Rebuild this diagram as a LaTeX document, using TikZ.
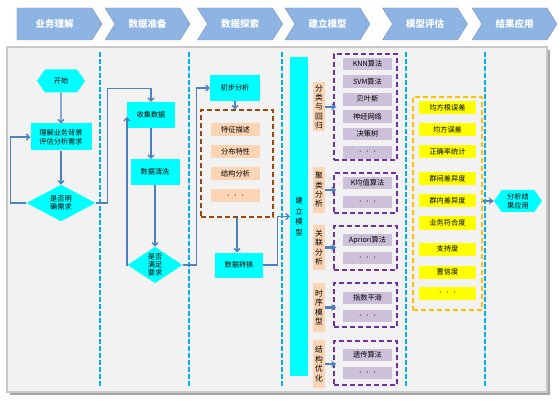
\documentclass[tikz,border=0pt]{standalone}
\usepackage{fontspec}
\newfontfamily\cjk{Noto Sans CJK SC}
\usetikzlibrary{arrows.meta, calc, positioning, shapes.geometric, shapes.symbols}

\definecolor{hdrblue}{HTML}{8DB4E2}
\definecolor{hdrline}{HTML}{7896C4}
\definecolor{boxcyan}{HTML}{00FFFF}
\definecolor{boxyellow}{HTML}{FFFF00}
\definecolor{flowblue}{HTML}{4F81BD}
\definecolor{sepblue}{HTML}{00B0F0}
\definecolor{peach}{HTML}{FBD4B4}
\definecolor{lavender}{HTML}{CCC0DA}
\definecolor{purpleline}{HTML}{7030A0}
\definecolor{brownline}{HTML}{984807}
\definecolor{orangeline}{HTML}{FFC000}
\definecolor{panelgray}{HTML}{F2F2F2}
\definecolor{panelline}{HTML}{C8C8C8}
\definecolor{shadowgray}{HTML}{A6A6A6}

\newcommand{\etcdots}{{\fontsize{5}{6}\selectfont\textbullet\ \ \textbullet\ \ \textbullet}}

\begin{document}
\begin{tikzpicture}[x=1pt, y=-1pt, >=Latex, font=\cjk\fontsize{7.2}{8.6}\selectfont,
  stage/.style={signal, signal to=east, signal pointer angle=116, fill=hdrblue, draw=hdrline,
    minimum width=85pt, minimum height=32pt, inner sep=0pt, text=white,
    font=\cjk\bfseries\fontsize{9.5}{11}\selectfont},
  proc/.style={fill=boxcyan, inner sep=0pt, align=center},
  cond/.style={diamond, fill=boxcyan, inner sep=0pt, align=center},
  term/.style={signal, signal to=west and east, signal pointer angle=110, fill=boxcyan,
    inner sep=0pt, align=center},
  flow/.style={draw=flowblue, line width=1.4pt, -{Straight Barb[length=3pt, width=6pt]}},
  link/.style={draw=flowblue, line width=2.2pt, -{Stealth[length=5pt, width=7pt]}},
  sep/.style={sepblue, line width=1.4pt, dash pattern=on 5pt off 2pt},
  group/.style={line width=1.4pt, dash pattern=on 5pt off 3pt, inner sep=0pt},
  item/.style={fill=peach, minimum width=49pt, minimum height=13pt, inner sep=0pt},
  algo/.style={fill=lavender, minimum width=49pt, minimum height=12.5pt, inner sep=0pt},
  metric/.style={fill=boxyellow, minimum width=57pt, minimum height=13pt, inner sep=0pt},
  kind/.style={fill=peach, minimum width=12pt, inner sep=0pt, align=center,
    font=\cjk\fontsize{7.8}{9.4}\selectfont},
]
\useasboundingbox (0,0) rectangle (560,401);

% stages on top
\node[stage] (s1) at (54.5,24) {业务理解};
\foreach \x/\txt [count=\i from 2] in {147.5/数据准备, 240/数据探索, 327.5/建立模型, 425/模型评估, 514.5/结果应用} {
  \node[stage, signal from=west] (s\i) at (\x,24) {\txt};
}

% panel
\fill[shadowgray] (10,50) rectangle (550,395);
\draw[fill=panelgray, draw=panelline, line width=2.5pt] (7,47) rectangle (547,392);
\foreach \x in {100, 189, 282, 406, 485} {
  \draw[sep] (\x,52) -- (\x,386);
}

% business understanding
\node[term, minimum width=48pt, minimum height=23pt] (start) at (61,81) {开始};
\node[proc, minimum width=61pt, minimum height=27pt] (understand) at (61,137) {理解业务背景\\评估分析需求};
\node[cond, minimum width=69pt, minimum height=36pt] (clear) at (61,203) {是否明\\确需求};

\draw[flow] (start) -- (understand);
\draw[flow] (understand) -- (clear);
\draw[flow] (clear.west) -- ++(-16,0) |- (understand.west);

% data preparation
\node[proc, minimum width=48pt, minimum height=26pt] (collect) at (151,115) {收集数据};
\node[proc, minimum width=49pt, minimum height=26pt] (clean) at (155,172) {数据清洗};
\node[cond, minimum width=55pt, minimum height=35pt, font=\cjk\fontsize{7.2}{7.8}\selectfont] (meet) at (155,265) {是否\\满足\\要求};

\draw[flow] (clear.east) -- ++(12,0) |- ($(collect.north)+(0,-13)$) -- (collect.north);
\draw[flow] (collect.south) -- (collect.south |- clean.north);
\draw[flow] (clean) -- (meet);
\draw[flow] (meet.west) -| ([yshift=-2pt]collect.west);

% data exploration
\node[proc, minimum width=50pt, minimum height=26pt] (explore) at (235,88) {初步分析};
\node[draw=brownline, group, minimum width=72pt, minimum height=107pt] (featbox) at (237,163.5) {};
\foreach \y/\txt [count=\i] in {130/特征描述, 152/分布特性, 174/结构分析, 196/\etcdots} {
  \node[item] (f\i) at (235.5,\y) {\txt};
}
\node[proc, minimum width=48pt, minimum height=25pt] (transform) at (239,265) {数据转换};

\draw[flow] (meet.east) -- ++(14,0) |- (explore.west);
\draw[flow] (explore.south) -- (explore.south |- featbox.north);
\draw[flow] (featbox.south) -- (featbox.south |- transform.north);

% modelling
\node[fill=boxcyan, minimum width=18pt, minimum height=319pt, inner sep=0pt, align=center,
  font=\cjk\fontsize{7.5}{10.5}\selectfont] (model) at (299,216.5) {建\\立\\模\\型};
\draw[flow] (transform.east) -- ++(14,0) |- (model.west);

\foreach \y/\h/\txt/\gy/\gh [count=\i] in {
    107/49/{分\\类\\与\\回\\归}/107/106,
    190/46/{聚\\类\\分\\析}/193/40,
    247.5/45/{关\\联\\分\\析}/248/44,
    307.5/49/{时\\序\\模\\型}/305/44,
    364/48/{结\\构\\优\\化}/363/44} {
  \node[kind, minimum height=\h] (k\i) at (319,\y) {\txt};
  \node[draw=purpleline, group, minimum width=63pt, minimum height=\gh] (g\i) at (365.5,\gy) {};
  \draw[link] (k\i.east) -- ([xshift=3pt]g\i.west |- k\i.east);
}
\foreach \y/\txt [count=\i] in {64/KNN算法, 81.7/SVM算法, 99.3/贝叶斯, 116.7/神经网络, 134/决策树,
    152.3/\etcdots, 183/K均值算法, 202/\etcdots, 240/Apriori算法, 258/\etcdots,
    298/指数平滑, 316/\etcdots, 355/遗传算法, 373/\etcdots} {
  \node[algo] (a\i) at (367.5,\y) {\txt};
}

% evaluation
\node[draw=orangeline, group, minimum width=69pt, minimum height=213pt] (evalbox) at (447.5,203.5) {};
\foreach \y/\txt [count=\i] in {108/均方根误差, 130/均方误差, 152/正确率统计, 179/群间差异度,
    201/群内差异度, 223/业务符合度, 249/支持度, 272/置信度, 293/\etcdots} {
  \node[metric] (m\i) at (447.5,\y) {\txt};
}

% application
\node[term, minimum width=48pt, minimum height=22pt] (result) at (518,201) {分析结\\果应用};
\draw[link] (evalbox.east |- result.west) -- (result.west);

\end{tikzpicture}
\end{document}
